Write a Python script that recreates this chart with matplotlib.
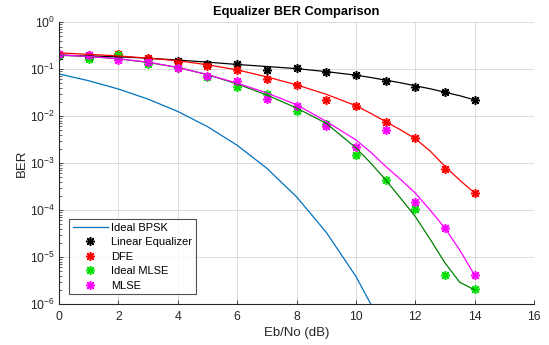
import numpy as np
import matplotlib.pyplot as plt
from matplotlib.ticker import LogLocator, NullFormatter

plt.rcParams['font.family'] = ['Liberation Sans', 'DejaVu Sans']

# Eb/No points (dB)
ebno = np.arange(0, 15)

# theoretical BPSK
ber_bpsk = [7.865e-2, 5.628e-2, 3.751e-2, 2.288e-2, 1.250e-2, 5.954e-3, 2.388e-3,
            7.727e-4, 1.909e-4, 3.363e-5, 3.872e-6, 2.613e-7, 9.006e-9, 1.333e-10, 6.810e-13]

# simulated points
ber_le = [0.186, 0.18, 0.185, 0.166, 0.145, 0.13, 0.128, 0.097, 0.105, 0.087,
          0.073, 0.056, 0.041, 0.032, 0.022]
ber_dfe = [0.21, 0.195, 0.21, 0.171, 0.138, 0.118, 0.097, 0.062, 0.045, 0.022,
           0.0167, 0.0074, 0.0034, 0.00075, 0.00023]
ber_imlse = [0.2, 0.165, 0.195, 0.128, 0.105, 0.068, 0.042, 0.029, 0.0131, 0.0069,
             0.0015, 0.00044, 0.000107, 0.0000041, 0.0000021]
ber_mlse = [0.21, 0.195, 0.152, 0.138, 0.105, 0.07, 0.055, 0.023, 0.0166, 0.006,
            0.0022, 0.005, 0.000145, 0.000041, 0.0000041]

# fitted curves
fit_x = [0, 1, 2, 3, 4, 5, 6, 7, 8, 9, 10, 10.5, 11, 11.5, 12, 12.5, 13, 13.5, 14]
fit_le = [0.195, 0.19, 0.182, 0.17, 0.155, 0.14, 0.125, 0.113, 0.102, 0.088, 0.074,
          0.066, 0.058, 0.051, 0.044, 0.038, 0.032, 0.027, 0.022]
fit_dfe = [0.22, 0.205, 0.19, 0.17, 0.15, 0.123, 0.096, 0.068, 0.046, 0.029, 0.0166,
           0.0114, 0.0076, 0.0051, 0.0033, 0.0018, 0.00085, 0.00043, 0.00023]
fit_imlse = [0.2, 0.185, 0.165, 0.138, 0.108, 0.076, 0.048, 0.028, 0.0148, 0.007, 0.0021,
             0.001, 0.00044, 0.00018, 0.000073, 0.000024, 0.0000075, 0.0000029, 0.000002]
fit_mlse = [0.2, 0.185, 0.165, 0.14, 0.108, 0.076, 0.05, 0.031, 0.0174, 0.0077, 0.0031,
            0.0017, 0.00085, 0.00045, 0.00023, 0.0001, 0.000041, 0.000014, 0.0000041]

ast = (8, 2, 0)
ms = 6.5

fig = plt.figure(figsize=(5.49, 3.45), dpi=100)
ax = fig.add_axes([0.1075, 0.1188, 0.8652, 0.8174])

ax.semilogy(ebno, ber_bpsk, color='#0072BD', lw=0.9, label='Ideal BPSK')
ax.semilogy(ebno, ber_le, ls='none', marker=ast, ms=ms, mec='k', mew=1.1, label='Linear Equalizer')
ax.semilogy(ebno, ber_dfe, ls='none', marker=ast, ms=ms, mec='#ff0000', mew=1.1, label='DFE')
ax.semilogy(ebno, ber_imlse, ls='none', marker=ast, ms=ms, mec='#00e000', mew=1.1, label='Ideal MLSE')
ax.semilogy(ebno, ber_mlse, ls='none', marker=ast, ms=ms, mec='#ff00ff', mew=1.1, label='MLSE')
ax.semilogy(fit_x, fit_le, color='k', lw=0.9)
ax.semilogy(fit_x, fit_dfe, color='#ff0000', lw=0.9)
ax.semilogy(fit_x, fit_imlse, color='#008000', lw=0.9)
ax.semilogy(fit_x, fit_mlse, color='#ff00ff', lw=0.9)

ax.set_xlim(0, 16)
ax.set_ylim(1e-6, 1)
ax.set_xticks(range(0, 17, 2))
ax.yaxis.set_major_locator(LogLocator(base=10, numticks=10))
ax.yaxis.set_minor_locator(LogLocator(base=10, subs=np.arange(2, 10), numticks=20))
ax.yaxis.set_minor_formatter(NullFormatter())
ax.grid(True, which='major', color='#dcdcdc', lw=0.7)
ax.set_axisbelow(True)
for s in ['top', 'right']:
    ax.spines[s].set_visible(False)
for s in ['left', 'bottom']:
    ax.spines[s].set_color('#262626')
    ax.spines[s].set_linewidth(0.8)
ax.tick_params(which='major', direction='in', length=3, width=0.6, colors='#262626', labelsize=8.8)
ax.tick_params(which='minor', direction='in', length=2, width=0.5, colors='#262626')
ax.tick_params(axis='x', pad=5)
ax.tick_params(axis='y', pad=3)

ax.set_xlabel('Eb/No (dB)', fontsize=9.5, color='#262626', labelpad=3)
ax.set_ylabel('BER', fontsize=9.5, color='#262626')
ax.yaxis.set_label_coords(-0.066, 0.5)
ax.set_title('Equalizer BER Comparison', fontsize=9.3, fontweight='bold', pad=5)

leg = ax.legend(loc='lower left', bbox_to_anchor=(0.126, 0.148), bbox_transform=fig.transFigure,
                fontsize=8, frameon=True, fancybox=False, borderaxespad=0, handlelength=3.2,
                handletextpad=0.3, labelspacing=0.4, borderpad=0.3)
leg.get_frame().set_edgecolor('#262626')
leg.get_frame().set_linewidth(0.8)

fig.savefig('out.png', dpi=100)
